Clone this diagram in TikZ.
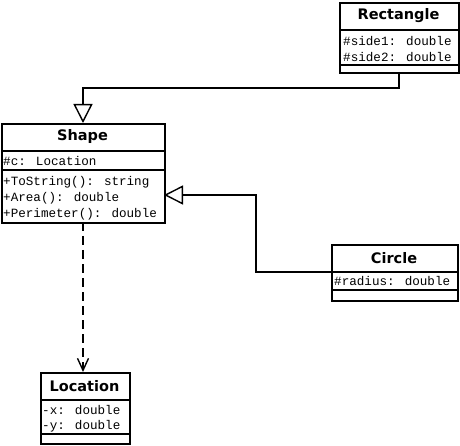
\documentclass[tikz,border=0pt]{standalone}
\usepackage{fontspec}
\setmainfont{DejaVu Sans}
\newfontfamily\monof{Liberation Mono}
\usetikzlibrary{arrows.meta}
\begin{document}
\begin{tikzpicture}[x=1pt,y=-1pt,
  cls/.style={draw, line width=1.8pt, fill=white, inner sep=0pt, anchor=north west},
  sep/.style={line width=1.4pt},
  ttl/.style={font=\fontsize{14.5}{16}\selectfont\bfseries, inner sep=0pt},
  mem/.style={font=\monof\fontsize{12.6}{14}\selectfont, inner sep=0pt, anchor=west},
  gen/.style={line width=1.4pt, -{Triangle[open, length=19pt, width=19pt, line width=1.4pt]}},
  dep/.style={line width=1.4pt, dash pattern=on 9pt off 5pt, -{Straight Barb[length=12pt, width=11pt, line width=1.4pt]}}
]
\useasboundingbox (0,0) rectangle (460,446);
% Rectangle
\node[cls, minimum width=119pt, minimum height=70pt] (rect) at (339,2) {};
\draw[sep] (339,30) -- (458,30) (339,65) -- (458,65);
\node[ttl] (rectt) at (398.5,16) {Rectangle};
\node[mem] (r1) at (343,41) {\#side1: double};
\node[mem] (r2) at (343,57) {\#side2: double};
% Shape
\node[cls, minimum width=163pt, minimum height=99pt] (shape) at (1,123) {};
\draw[sep] (1,151) -- (164,151) (1,170) -- (164,170);
\node[ttl] (shapet) at (82.5,137) {Shape};
\node[mem] (s0) at (3,161) {\#c: Location};
\node[mem] (s1) at (3,182) {+ToString(): string};
\node[mem] (s2) at (3,198) {+Area(): double};
\node[mem] (s3) at (3,214) {+Perimeter(): double};
% Circle
\node[cls, minimum width=126pt, minimum height=56pt] (circ) at (331,244) {};
\draw[sep] (331,272) -- (457,272) (331,290) -- (457,290);
\node[ttl] (circt) at (394,258) {Circle};
\node[mem] (c1) at (334,281) {\#radius: double};
% Location
\node[cls, minimum width=89pt, minimum height=71pt] (loc) at (40,372) {};
\draw[sep] (40,400) -- (129,400) (40,434) -- (129,434);
\node[ttl] (loct) at (84.5,386) {Location};
\node[mem] (l1) at (42,410) {-x: double};
\node[mem] (l2) at (42,426) {-y: double};
% connectors
\coordinate (rb) at (399,72);
\coordinate (st) at (83,123);
\draw[gen] (rb) -- (399,88) -- (83,88) -- (st);
\coordinate (cl) at (331,272);
\coordinate (sr) at (164,195);
\draw[gen] (cl) -- (256,272) -- (256,195) -- (sr);
\coordinate (sb) at (83,222);
\coordinate (lt) at (83,372);
\draw[dep] (sb) -- (lt);
\end{tikzpicture}
\end{document}
